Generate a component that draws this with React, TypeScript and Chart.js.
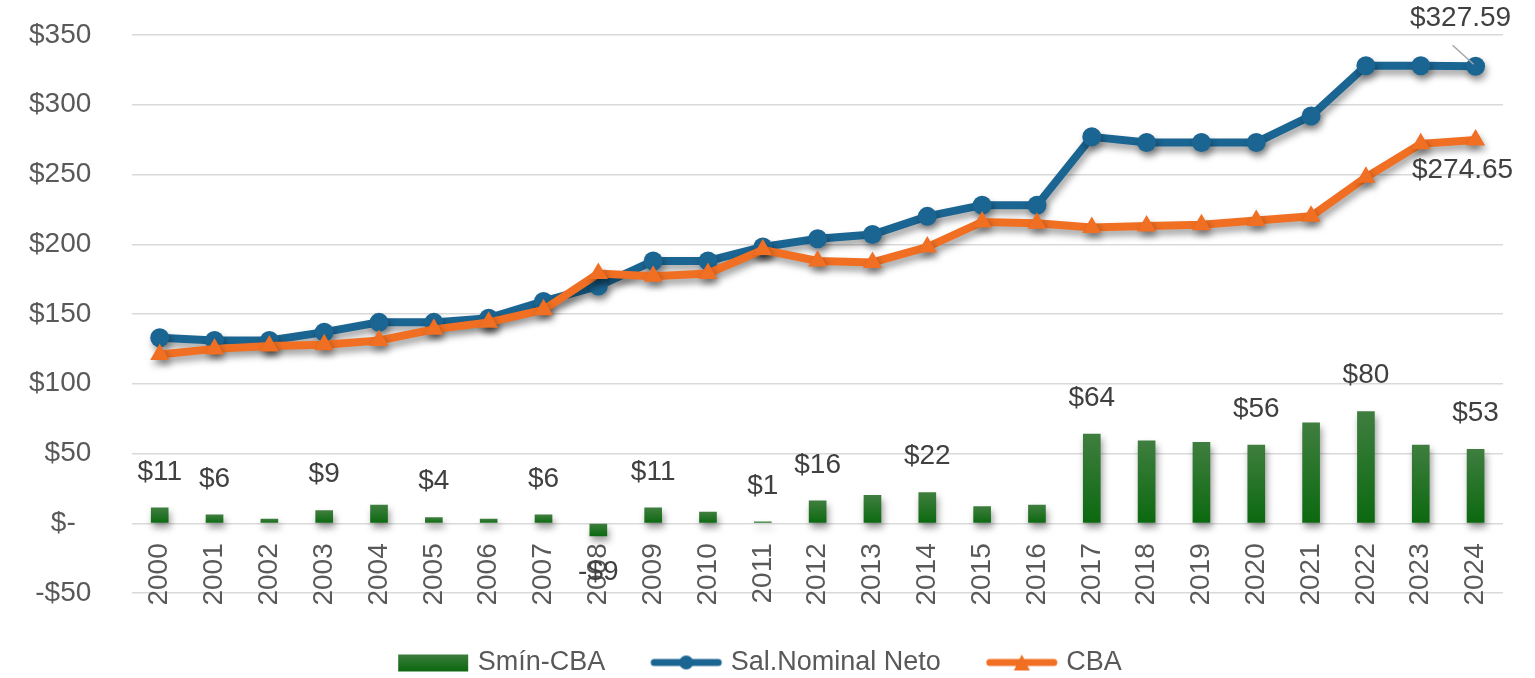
import React, { useEffect, useRef } from 'react';
import { Chart, registerables } from 'chart.js';

Chart.register(...registerables);

// ---- data ----
const years = [
  '2000', '2001', '2002', '2003', '2004', '2005', '2006', '2007', '2008', '2009',
  '2010', '2011', '2012', '2013', '2014', '2015', '2016', '2017', '2018', '2019',
  '2020', '2021', '2022', '2023', '2024',
];
const salNominalNeto = [
  133, 131, 131, 137, 144, 144, 147, 159, 170, 188,
  188, 198, 204, 207, 220, 228, 228, 277, 273, 273,
  273, 292, 328, 328, 327.59,
];
const cba = [
  121, 125, 127, 128, 131, 139, 144, 153, 179, 177,
  179, 196, 188, 187, 198, 216, 215, 212, 213, 214,
  217, 220, 248, 272, 274.65,
];
const sminCba = [
  11, 6, 3, 9, 13, 4, 3, 6, -9, 11,
  8, 1, 16, 20, 22, 12, 13, 64, 59, 58,
  56, 72, 80, 56, 53,
];
const sminCbaLabelShown = [
  true, true, false, true, false, true, false, true, true, true,
  false, true, true, false, true, false, false, true, false, false,
  true, false, true, false, true,
];
const seriesNames = ['Smín-CBA', 'Sal.Nominal Neto', 'CBA'];
const Y_MIN = -50;
const Y_MAX = 350;
const Y_STEP = 50;

// ---- styles ----
const FONT = "'Liberation Sans', Arial, sans-serif";
const BLUE = '#1b6592';
const ORANGE = '#f06f22';
const GREEN = '#1a701c';
const GREEN_TOP = '#3f7e3f';
const GREEN_BOTTOM = '#0b690f';
const TEXT = '#595959';
const LABEL = '#404040';

function fmtTick(v: number): string {
  if (v === 0) return '$-  ';
  return v < 0 ? `-$${Math.abs(v)}` : `$${v}`;
}

function makeSwatch(kind: 'bar' | 'circle' | 'triangle'): HTMLCanvasElement {
  const c = document.createElement('canvas');
  c.width = 74;
  c.height = 22;
  const g = c.getContext('2d')!;
  if (kind === 'bar') {
    const gr = g.createLinearGradient(0, 2, 0, 20);
    gr.addColorStop(0, GREEN_TOP);
    gr.addColorStop(1, GREEN_BOTTOM);
    g.fillStyle = gr;
    g.fillRect(2, 3, 70, 17);
  } else {
    const color = kind === 'circle' ? BLUE : ORANGE;
    g.strokeStyle = color;
    g.lineWidth = 7;
    g.lineCap = 'round';
    g.beginPath();
    g.moveTo(5, 11);
    g.lineTo(69, 11);
    g.stroke();
    g.fillStyle = color;
    g.beginPath();
    if (kind === 'circle') {
      g.arc(37, 11, 7, 0, Math.PI * 2);
    } else {
      g.moveTo(37, 3);
      g.lineTo(45, 19);
      g.lineTo(29, 19);
      g.closePath();
    }
    g.fill();
  }
  return c;
}

export default function App() {
  const ref = useRef<HTMLCanvasElement>(null);

  useEffect(() => {
    document.body.style.margin = '0';
    const canvas = ref.current;
    if (!canvas) return;

    const swatches = [makeSwatch('bar'), makeSwatch('circle'), makeSwatch('triangle')];

    const shadowPlugin = {
      id: 'dropShadow',
      beforeDatasetsDraw(chart: any) {
        const c = chart.ctx;
        c.save();
        c.shadowColor = 'rgba(0,0,0,0.38)';
        c.shadowBlur = 7;
        c.shadowOffsetX = 2;
        c.shadowOffsetY = 5;
      },
      afterDatasetsDraw(chart: any) {
        chart.ctx.restore();
      },
    };

    const labelPlugin = {
      id: 'valueLabels',
      afterDraw(chart: any) {
        const c = chart.ctx;
        c.save();
        c.font = `28px ${FONT}`;
        c.fillStyle = LABEL;
        c.textAlign = 'center';
        c.textBaseline = 'middle';
        const barMeta = chart.getDatasetMeta(0);
        barMeta.data.forEach((el: any, i: number) => {
          if (!sminCbaLabelShown[i]) return;
          const v = sminCba[i];
          const txt = v < 0 ? `-$${Math.abs(v)}` : `$${v}`;
          c.fillText(txt, el.x, v >= 0 ? el.y - 36 : el.y + 36);
        });
        const salMeta = chart.getDatasetMeta(1);
        const sLast = salMeta.data[salMeta.data.length - 1];
        const sVal = salNominalNeto[salNominalNeto.length - 1];
        c.fillText(`$${sVal.toFixed(2)}`, sLast.x - 15, sLast.y - 48);
        c.strokeStyle = '#a6a6a6';
        c.lineWidth = 1.5;
        c.beginPath();
        c.moveTo(sLast.x - 23, sLast.y - 21);
        c.lineTo(sLast.x - 2, sLast.y - 2);
        c.stroke();
        const cbaMeta = chart.getDatasetMeta(2);
        const cLast = cbaMeta.data[cbaMeta.data.length - 1];
        const cVal = cba[cba.length - 1];
        c.fillText(`$${cVal.toFixed(2)}`, cLast.x - 13, cLast.y + 30);
        c.restore();
      },
    };

    const chart = new Chart(canvas, {
      type: 'bar',
      data: {
        labels: years,
        datasets: [
          {
            type: 'bar',
            label: seriesNames[0],
            data: sminCba,
            order: 3,
            barThickness: 17,
            backgroundColor: (ctx: any) => {
              const ch = ctx.chart;
              const y = ch.scales && ch.scales.y;
              if (!y || ctx.type !== 'data') return GREEN;
              const v = ctx.raw as number;
              const top = y.getPixelForValue(Math.max(v, 0));
              const bot = y.getPixelForValue(Math.min(v, 0));
              if (!isFinite(top) || !isFinite(bot) || Math.abs(top - bot) < 1) return GREEN;
              const g = ch.ctx.createLinearGradient(0, top, 0, bot);
              g.addColorStop(0, GREEN_TOP);
              g.addColorStop(1, GREEN_BOTTOM);
              return g;
            },
            borderWidth: 0,
          },
          {
            type: 'line',
            label: seriesNames[1],
            data: salNominalNeto,
            order: 2,
            borderColor: BLUE,
            backgroundColor: BLUE,
            borderWidth: 8,
            pointStyle: 'circle',
            pointRadius: 9.5,
            pointBorderWidth: 0,
            pointBackgroundColor: BLUE,
            tension: 0,
            fill: false,
          },
          {
            type: 'line',
            label: seriesNames[2],
            data: cba,
            order: 1,
            borderColor: ORANGE,
            backgroundColor: ORANGE,
            borderWidth: 8,
            pointStyle: 'triangle',
            pointRadius: 11,
            pointBorderWidth: 0,
            pointBackgroundColor: ORANGE,
            tension: 0,
            fill: false,
          },
        ],
      } as any,
      options: {
        responsive: false,
        animation: false,
        events: [],
        layout: { padding: { top: 35, left: 21, right: 32, bottom: -8 } },
        plugins: {
          tooltip: { enabled: false },
          legend: {
            position: 'bottom',
            title: { display: true, text: ' ', font: { size: 6, lineHeight: 1 }, padding: 0 },
            labels: {
              usePointStyle: true,
              pointStyleWidth: 62,
              padding: 50,
              color: TEXT,
              font: { family: FONT, size: 27 },
              generateLabels: () =>
                seriesNames.map((name, i) => ({
                  text: name,
                  pointStyle: swatches[i],
                  fillStyle: 'transparent',
                  strokeStyle: 'transparent',
                  lineWidth: 0,
                  fontColor: TEXT,
                  hidden: false,
                  datasetIndex: i,
                })),
            },
          },
        },
        scales: {
          x: {
            position: { y: 0 },
            grid: { display: false, drawTicks: false },
            border: { display: false },
            ticks: {
              color: TEXT,
              font: { family: FONT, size: 28 },
              padding: 20,
              minRotation: 90,
              maxRotation: 90,
              autoSkip: false,
            },
          },
          y: {
            min: Y_MIN,
            max: Y_MAX,
            grid: {
              color: '#d9d9d9',
              lineWidth: 1.5,
              drawTicks: true,
              tickLength: 33,
              tickColor: 'rgba(0,0,0,0)',
            },
            border: { display: false },
            ticks: {
              stepSize: Y_STEP,
              padding: 8,
              color: TEXT,
              font: { family: FONT, size: 28 },
              callback: (v: any) => fmtTick(Number(v)),
            },
          },
        },
      } as any,
      plugins: [shadowPlugin, labelPlugin],
    });

    return () => chart.destroy();
  }, []);

  return (
    <div style={{ width: 1535, height: 678, background: '#ffffff' }}>
      <canvas ref={ref} width={1535} height={678} style={{ display: 'block' }} />
    </div>
  );
}
